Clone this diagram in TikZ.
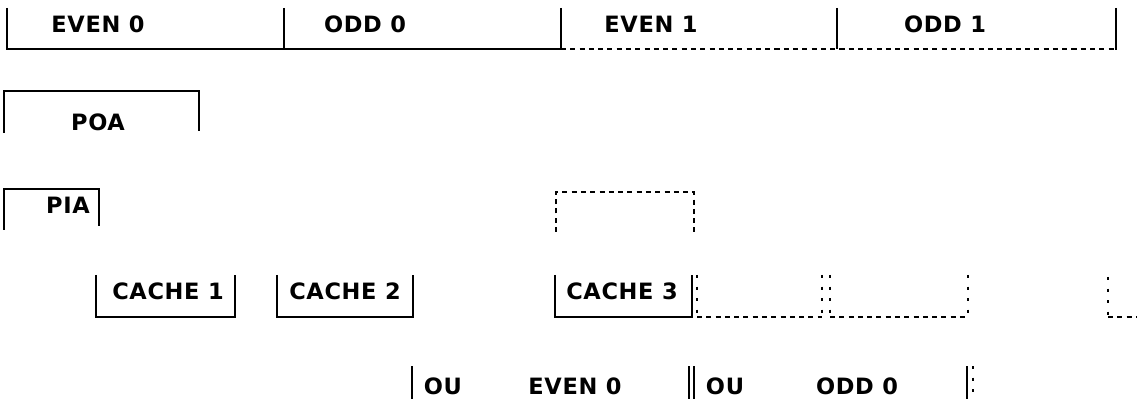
\documentclass[tikz,border=0pt]{standalone}
\usepackage{fontspec}
\newfontfamily\chartfont[LetterSpace=3]{DejaVu Sans}
\usepackage{tikz}

\begin{document}
\begin{tikzpicture}[x=0.025cm,y=-0.025cm,line width=1.3pt,
  lbl/.style={inner sep=0pt,font=\chartfont\bfseries\fontsize{16}{18}\selectfont},
  slot/.style={line cap=butt,line join=miter},
  spare/.style={dash pattern=on 3.6pt off 3pt},
  sparev/.style={dash pattern=on 2.2pt off 6pt}]
  \useasboundingbox (0,0) rectangle (1137,399);
  % memory words
  \node[lbl] (even0) at (98,24.5) {EVEN 0};
  \node[lbl] (odd0) at (365,24.5) {ODD 0};
  \node[lbl] (even1) at (651,24.5) {EVEN 1};
  \node[lbl] (odd1) at (945,24.5) {ODD 1};
  \draw[slot] (7,8) -- (7,49) -- (561,49);
  \draw[slot] (284,8) -- (284,49);
  \draw[slot] (561,8) -- (561,49);
  \draw[slot] (837,8) -- (837,49);
  \draw[slot] (1116,8) -- (1116,50);
  \draw[spare] (561,49) -- (1116,49);
  % address phases
  \node[lbl] (poa) at (98,122) {POA};
  \draw[slot] (4,133) -- (4,91) -- (199,91) -- (199,131);
  \node[lbl] (pia) at (68,205) {PIA};
  \draw[slot] (4,230) -- (4,189) -- (99,189) -- (99,226);
  \draw[spare] (556,232) -- (556,192) -- (694,192) -- (694,232);
  % cache cycles
  \node[lbl] (cache1) at (168,291) {CACHE 1};
  \node[lbl] (cache2) at (345,291) {CACHE 2};
  \node[lbl] (cache3) at (622,291) {CACHE 3};
  \draw[slot] (96,275) -- (96,317) -- (235,317) -- (235,275);
  \draw[slot] (277,275) -- (277,317) -- (413,317) -- (413,275);
  \draw[slot] (555,275) -- (555,317) -- (692,317) -- (692,275);
  \draw[sparev] (697,275) -- (697,317);
  \draw[spare] (697,317) -- (822,317);
  \draw[sparev] (822,275) -- (822,317);
  \draw[sparev] (830,275) -- (830,317);
  \draw[spare] (830,317) -- (968,317);
  \draw[sparev] (968,275) -- (968,317);
  \draw[sparev] (1108,277) -- (1108,317);
  \draw[spare] (1108,317) -- (1137,317);
  % output phases
  \node[lbl] (ou0) at (443,386) {OU};
  \node[lbl] (oueven) at (575,386) {EVEN 0};
  \node[lbl] (ou1) at (725,386) {OU};
  \node[lbl] (ouodd) at (857,386) {ODD 0};
  \draw[slot] (412,366) -- (412,399);
  \draw[slot] (689,366) -- (689,399);
  \draw[slot] (694,366) -- (694,399);
  \draw[slot] (967,366) -- (967,399);
  \draw[sparev] (973,366) -- (973,399);
\end{tikzpicture}
\end{document}
